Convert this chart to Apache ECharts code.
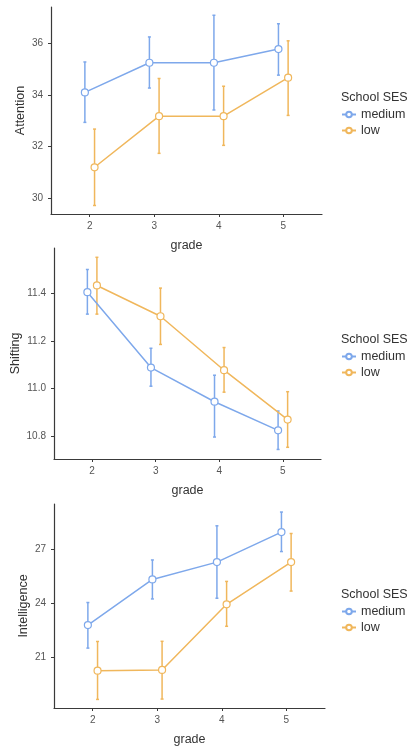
<!DOCTYPE html>
<html><head><meta charset="utf-8">
<script src="https://cdn.jsdelivr.net/npm/echarts@6/dist/echarts.min.js"></script>
<style>html,body{margin:0;padding:0;background:#fff}#c{width:409px;height:747px}</style>
</head><body><div id="c"></div>
<script>
const grades = [2, 3, 4, 5];
const groups = ['medium', 'low'];
const legendTitle = 'School SES';

const attnMedMean = [34.09, 35.24, 35.24, 35.77];
const attnMedLo   = [32.93, 34.26, 33.41, 34.76];
const attnMedHi   = [35.27, 36.24, 37.08, 36.75];
const attnLowMean = [31.19, 33.17, 33.17, 34.66];
const attnLowLo   = [29.71, 31.73, 32.04, 33.20];
const attnLowHi   = [32.67, 34.63, 34.33, 36.09];
const attnTicks = [30, 32, 34, 36];

const shiftMedMean = [11.404, 11.088, 10.945, 10.825];
const shiftMedLo   = [11.312, 11.010, 10.797, 10.745];
const shiftMedHi   = [11.499, 11.169, 11.056, 10.906];
const shiftLowMean = [11.432, 11.303, 11.077, 10.870];
const shiftLowLo   = [11.312, 11.185, 10.985, 10.754];
const shiftLowHi   = [11.550, 11.421, 11.172, 10.987];
const shiftTicks = [10.8, 11.0, 11.2, 11.4];

const intelMedMean = [22.78, 25.33, 26.30, 27.98];
const intelMedLo   = [21.49, 24.24, 24.28, 26.89];
const intelMedHi   = [24.04, 26.42, 28.33, 29.10];
const intelLowMean = [20.23, 20.27, 23.94, 26.30];
const intelLowLo   = [18.62, 18.64, 22.71, 24.68];
const intelLowHi   = [21.86, 21.87, 25.22, 27.90];
const intelTicks = [21, 24, 27];

const colMed = '#7ea8eb';
const colLow = '#f0b75c';
const dodge = 0.075;
const FONT = 'Liberation Sans, Arial, sans-serif';

const panels = [
  {name:'Attention', ticks:attnTicks, min:29.38, max:37.4, fmt:v=>String(v),
   med:[attnMedMean, attnMedLo, attnMedHi], low:[attnLowMean, attnLowLo, attnLowHi],
   grid:{left:51, top:7, width:271, height:207}, nameGap:24, legendTop:86},
  {name:'Shifting', ticks:shiftTicks, min:10.705, max:11.589, fmt:v=>v.toFixed(1),
   med:[shiftMedMean, shiftMedLo, shiftMedHi], low:[shiftLowMean, shiftLowLo, shiftLowHi],
   grid:{left:54, top:248, width:267, height:211}, nameGap:32, legendTop:328},
  {name:'Intelligence', ticks:intelTicks, min:18.14, max:29.55, fmt:v=>String(v),
   med:[intelMedMean, intelMedLo, intelMedHi], low:[intelLowMean, intelLowLo, intelLowHi],
   grid:{left:54, top:504, width:271, height:206}, nameGap:24, legendTop:583}
];

const grid = [], xAxis = [], yAxis = [], series = [], legend = [], title = [];
panels.forEach((p, i) => {
  grid.push(Object.assign({containLabel:false}, p.grid));
  const axisLine = {show:true, lineStyle:{color:'#3a3a3a', width:1.2}};
  xAxis.push({type:'value', gridIndex:i, min:1.4, max:5.6, name:'grade', nameLocation:'middle', nameGap:25,
    nameMoveOverlap:false,
    nameTextStyle:{color:'#333', fontSize:12.5, fontFamily:FONT},
    axisLine, splitLine:{show:false},
    axisTick:{show:true, length:3, customValues:grades, lineStyle:{color:'#3a3a3a'}},
    axisLabel:{customValues:grades, color:'#555', fontSize:10, fontFamily:FONT, margin:7}});
  yAxis.push({type:'value', gridIndex:i, min:p.min, max:p.max, name:p.name, nameLocation:'middle', nameGap:p.nameGap,
    nameMoveOverlap:false,
    nameTextStyle:{color:'#333', fontSize:12.5, fontFamily:FONT},
    axisLine, splitLine:{show:false},
    axisTick:{show:true, length:3, customValues:p.ticks, lineStyle:{color:'#3a3a3a'}},
    axisLabel:{customValues:p.ticks, formatter:p.fmt, color:'#555', fontSize:10, fontFamily:FONT, margin:8}});
  [['medium', p.med, colMed, -dodge], ['low', p.low, colLow, dodge]].forEach(([nm, arr, col, off]) => {
    const [mean, lo, hi] = arr;
    series.push({type:'line', name:nm, xAxisIndex:i, yAxisIndex:i, z:3,
      data: grades.map((g, k) => [g + off, mean[k]]),
      symbol:'circle', symbolSize:7, showSymbol:true,
      itemStyle:{color:'#fff', borderColor:col, borderWidth:1.2},
      lineStyle:{color:col, width:1.5}, emphasis:{disabled:true}});
    series.push({type:'custom', name:nm + ' error', xAxisIndex:i, yAxisIndex:i, z:2, silent:true,
      data: grades.map((g, k) => [g + off, lo[k], hi[k]]),
      renderItem: (params, api) => {
        const a = api.coord([api.value(0), api.value(1)]);
        const b = api.coord([api.value(0), api.value(2)]);
        const st = {stroke:col, lineWidth:1.5};
        const cw = 1.5;
        return {type:'group', children:[
          {type:'line', shape:{x1:a[0], y1:a[1], x2:b[0], y2:b[1]}, style:st},
          {type:'line', shape:{x1:a[0]-cw, y1:a[1], x2:a[0]+cw, y2:a[1]}, style:st},
          {type:'line', shape:{x1:b[0]-cw, y1:b[1], x2:b[0]+cw, y2:b[1]}, style:st}
        ]};
      }});
  });
  title.push({text:legendTitle, left:336, top:p.legendTop, textStyle:{color:'#333', fontSize:12.5, fontWeight:'normal', fontFamily:FONT}});
  legend.push({data:groups, left:336, top:p.legendTop + 17, orient:'vertical', itemWidth:14, itemHeight:7, itemGap:3,
    textStyle:{color:'#333', fontSize:12.5, fontFamily:FONT}, selectedMode:false});
});

const chart = echarts.init(document.getElementById('c'), null, {renderer:'canvas'});
chart.setOption({animation:false, backgroundColor:'#fff', title, legend, grid, xAxis, yAxis, series});
</script></body></html>
